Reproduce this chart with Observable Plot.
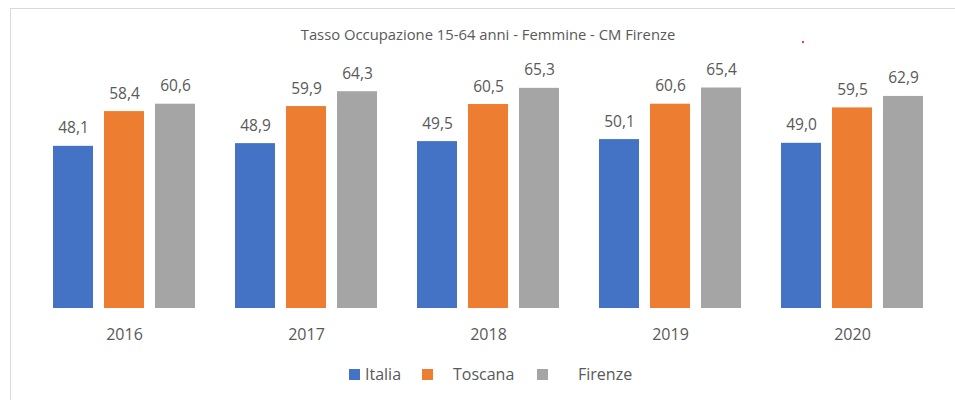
<!DOCTYPE html>
<html><head><meta charset="utf-8">
<script src="https://cdn.jsdelivr.net/npm/d3@7"></script>
<script src="https://cdn.jsdelivr.net/npm/@observablehq/plot@0.6"></script>
<style>
body{margin:0;background:#fff;font-family:"Open Sans",sans-serif;}
#wrap{position:relative;width:955px;height:400px;overflow:hidden;}
#frame{position:absolute;left:10px;top:8px;width:960px;height:400px;border-left:1px solid #d9d9d9;border-top:1px solid #d9d9d9;box-sizing:border-box;}
#title{position:absolute;left:0;width:976px;top:24px;line-height:20px;text-align:center;font-size:14.8px;color:#595959;}
#chart{position:absolute;left:0;top:0;}
#legend{position:absolute;top:363px;left:0;height:22px;font-size:16px;color:#595959;}
#legend span.sw{position:absolute;top:6px;width:11px;height:11px;}
#legend span.lb{position:absolute;top:0;line-height:22px;white-space:nowrap;}
#dot{position:absolute;left:802px;top:41px;width:2px;height:2px;background:#e8000b;border-radius:1px;}
</style></head>
<body>
<div id="wrap">
  <div id="frame"></div>
  <div id="chart"></div>
  <div id="title">Tasso Occupazione 15-64 anni - Femmine - CM Firenze</div>
  <div id="dot"></div>
  <div id="legend"></div>
</div>
<script>
const years = ["2016", "2017", "2018", "2019", "2020"];
const seriesNames = ["Italia", "Toscana", "Firenze"];
const italia = [48.1, 48.9, 49.5, 50.1, 49.0];
const toscana = [58.4, 59.9, 60.5, 60.6, 59.5];
const firenze = [60.6, 64.3, 65.3, 65.4, 62.9];
const colors = ["#4472C4", "#ED7D31", "#A5A5A5"];

const seriesValues = [italia, toscana, firenze];
const data = [];
years.forEach((y, i) => seriesNames.forEach((s, j) => data.push({year: y, series: s, value: seriesValues[j][i]})));
const fmt = v => v.toFixed(1).replace(".", ",");

const chart = Plot.plot({
  width: 955,
  height: 400,
  marginTop: 72,
  marginBottom: 92,
  marginLeft: 33,
  marginRight: 12,
  style: {fontFamily: "'Open Sans', sans-serif", background: "transparent"},
  fx: {domain: years, paddingInner: 0.22, paddingOuter: 0.11, label: null},
  x: {domain: seriesNames, paddingInner: 0.216, paddingOuter: 0, axis: null},
  y: {domain: [0, 70], axis: null},
  color: {domain: seriesNames, range: colors},
  marks: [
    Plot.barY(data, {fx: "year", x: "series", y: "value", fill: "series"}),
    Plot.text(data, {fx: "year", x: "series", y: "value", text: d => fmt(d.value), lineAnchor: "bottom", dy: -13, fontSize: 15.5, fill: "#595959"}),
    Plot.axisFx({anchor: "bottom", tickSize: 0, tickPadding: 20, fontSize: 16, color: "#595959", label: null})
  ]
});
document.getElementById("chart").appendChild(chart);

const legend = document.getElementById("legend");
const swX = [349, 422, 537];
const lbX = [365, 453, 578];
seriesNames.forEach((s, i) => {
  const sw = document.createElement("span");
  sw.className = "sw"; sw.style.left = swX[i] + "px"; sw.style.background = colors[i];
  legend.appendChild(sw);
  const lb = document.createElement("span");
  lb.className = "lb"; lb.style.left = lbX[i] + "px"; lb.textContent = s;
  legend.appendChild(lb);
});
</script>
</body></html>
